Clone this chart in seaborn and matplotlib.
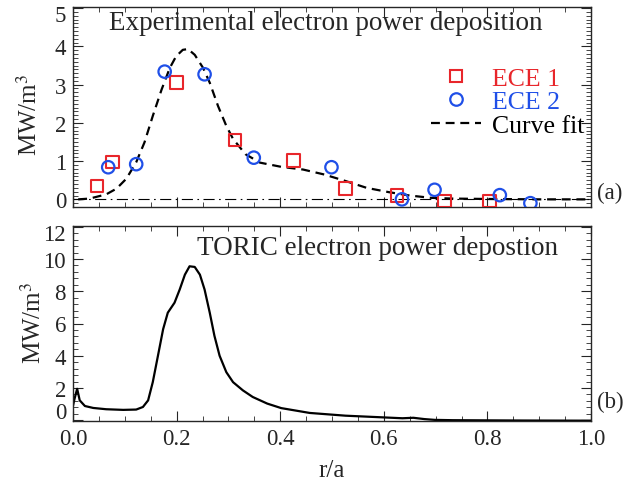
import numpy as np
import pandas as pd
import matplotlib
matplotlib.use("Agg")
import matplotlib.pyplot as plt
from matplotlib.lines import Line2D
from matplotlib.legend_handler import HandlerLine2D
from matplotlib.ticker import MultipleLocator
from matplotlib.transforms import ScaledTranslation
import seaborn as sns

# ---------------- data ----------------
ece1_x = [0.046, 0.076, 0.200, 0.313, 0.426, 0.526, 0.626, 0.717, 0.804]
ece1_y = [0.35, 0.97, 3.06, 1.55, 1.02, 0.28, 0.10, -0.04, -0.04]

ece2_x = [0.068, 0.122, 0.177, 0.254, 0.349, 0.499, 0.635, 0.698, 0.824, 0.883]
ece2_y = [0.84, 0.92, 3.34, 3.27, 1.09, 0.84, 0.00, 0.25, 0.11, -0.10]

fit_x = [0.01, 0.032, 0.064, 0.084, 0.103, 0.122, 0.138, 0.154, 0.171, 0.187,
         0.199, 0.212, 0.222, 0.235, 0.251, 0.264, 0.28, 0.296, 0.309, 0.333,
         0.361, 0.402, 0.444, 0.485, 0.526, 0.567, 0.609, 0.65, 0.691, 0.733,
         0.80, 0.90, 1.0]
fit_y = [0.0, 0.02, 0.13, 0.28, 0.54, 0.97, 1.49, 2.18, 2.87, 3.44,
         3.74, 3.91, 3.93, 3.78, 3.44, 3.05, 2.44, 1.92, 1.58, 1.18,
         0.96, 0.85, 0.78, 0.65, 0.48, 0.30, 0.19, 0.10, 0.04, 0.02,
         0.01, 0.0, 0.0]

toric_x = [0.0, 0.003, 0.008, 0.013, 0.023, 0.039, 0.064, 0.097, 0.122, 0.135,
           0.145, 0.154, 0.164, 0.174, 0.183, 0.196, 0.206, 0.216, 0.225,
           0.235, 0.245, 0.254, 0.264, 0.273, 0.283, 0.296, 0.309, 0.328,
           0.347, 0.375, 0.402, 0.457, 0.526, 0.595, 0.636, 0.657, 0.678,
           0.698, 0.733, 0.80, 0.87, 1.0]
toric_y = [0.9, 1.33, 1.95, 1.23, 0.88, 0.76, 0.68, 0.64, 0.66, 0.82,
           1.23, 2.36, 4.0, 5.65, 6.67, 7.29, 8.11, 9.03, 9.55,
           9.51, 9.03, 8.11, 6.67, 5.24, 4.0, 2.98, 2.36, 1.85,
           1.44, 1.03, 0.75, 0.45, 0.28, 0.18, 0.12, 0.15, 0.07,
           0.02, 0.0, -0.01, -0.02, -0.03]

series_labels = ["ECE 1", "ECE 2", "Curve fit"]
title_a = "Experimental electron power deposition"
title_b = "TORIC electron power depostion"
ylabel = "MW/m$^3$"
xlabel = "r/a"

# ---------------- style ----------------
sns.set_style("ticks")
plt.rcParams["font.family"] = ["Liberation Serif", "DejaVu Serif"]
plt.rcParams["mathtext.fontset"] = "stix"

red = "#e8262b"
blue = "#1f4fe8"
fs_title = 19.5
fs_leg = 18.5
fs_label = 18
fs_tick = 16.5
fs_tag = 16.5

fig = plt.figure(figsize=(6.28, 4.81), dpi=100)
L, W = 73 / 628, 518 / 628
ax1 = fig.add_axes([L, 1 - 208 / 481, W, 200 / 481])
ax2 = fig.add_axes([L, 1 - 422 / 481, W, 195 / 481])

df1 = pd.DataFrame({"x": ece1_x, "y": ece1_y})
df2 = pd.DataFrame({"x": ece2_x, "y": ece2_y})
dff = pd.DataFrame({"x": fit_x, "y": fit_y})
dft = pd.DataFrame({"x": toric_x, "y": toric_y})

dash = (0, (4, 2.6))

# top panel
ax1.axhline(0, color="black", lw=0.8, ls=(0, (10, 4, 1.5, 4)), zorder=1)
sns.lineplot(data=dff, x="x", y="y", ax=ax1, color="black", lw=1.6,
             linestyle=dash, sort=False, zorder=2)
sns.scatterplot(data=df1, x="x", y="y", ax=ax1, marker="s", s=80,
                facecolors="none", edgecolor=red, linewidth=1.5, zorder=3)
sns.scatterplot(data=df2, x="x", y="y", ax=ax1, marker="o", s=80,
                facecolors="none", edgecolor=blue, linewidth=1.6, zorder=3)

ax1.set_xlim(0, 1)
ax1.set_ylim(-0.2, 5.03)
ax1.set_xlabel("")
ax1.set_ylabel(ylabel, fontsize=fs_label)
ax1.set_yticks([0, 1, 2, 3, 4, 5])
ax1.yaxis.set_minor_locator(MultipleLocator(0.1))
ax1.xaxis.set_major_locator(MultipleLocator(0.2))
ax1.xaxis.set_minor_locator(MultipleLocator(0.05))
ax1.text(0.487, 0.92, title_a, transform=ax1.transAxes, ha="center", va="center",
         fontsize=fs_title)
ax1.text(1.011, 0.075, "(a)", transform=ax1.transAxes, ha="left", va="center",
         fontsize=fs_tag)


class RightMarkerHandler(HandlerLine2D):
    def get_xdata(self, legend, xdescent, ydescent, width, height, fontsize):
        xdata = np.array([-xdescent, -xdescent + width], float)
        xdata_marker = np.array([-xdescent + width - 0.25 * fontsize], float)
        return xdata, xdata_marker


handles = [
    Line2D([], [], marker="s", ls="none", mfc="none", mec=red, ms=9, mew=1.5),
    Line2D([], [], marker="o", ls="none", mfc="none", mec=blue, ms=9, mew=1.6),
    Line2D([], [], color="black", lw=1.6, ls=dash),
]
leg = ax1.legend(handles, series_labels, loc="upper left", bbox_to_anchor=(0.691, 0.70),
                 frameon=False, fontsize=fs_leg, handlelength=1.95, handletextpad=0.42,
                 labelspacing=0.02, borderpad=0, borderaxespad=0,
                 handler_map={h: RightMarkerHandler(numpoints=1) for h in handles})
for t, c in zip(leg.get_texts(), [red, blue, "black"]):
    t.set_color(c)

# bottom panel
sns.lineplot(data=dft, x="x", y="y", ax=ax2, color="black", lw=1.6, sort=False)
ax2.set_xlim(0, 1)
ax2.set_ylim(-0.05, 12.05)
ax2.set_yticks([0, 2, 4, 6, 8, 10, 12])
ax2.yaxis.set_minor_locator(MultipleLocator(0.4))
ax2.xaxis.set_major_locator(MultipleLocator(0.2))
ax2.xaxis.set_minor_locator(MultipleLocator(0.05))
ax2.xaxis.set_major_formatter(matplotlib.ticker.FormatStrFormatter("%.1f"))
ax2.set_xlabel(xlabel, fontsize=fs_label, labelpad=7)
ax2.set_ylabel(ylabel, fontsize=fs_label)
ax2.text(0.587, 0.89, title_b, transform=ax2.transAxes, ha="center", va="center",
         fontsize=fs_title)
ax2.text(1.011, 0.10, "(b)", transform=ax2.transAxes, ha="left", va="center",
         fontsize=fs_tag)

for ax in (ax1, ax2):
    ax.tick_params(which="both", direction="in", top=True, right=True,
                   labelsize=fs_tick, pad=5)
    ax.tick_params(which="major", length=7, width=0.8)
    ax.tick_params(which="minor", length=3.5, width=0.6)
    for s in ax.spines.values():
        s.set_linewidth(1.0)
ax1.tick_params(labelbottom=False)
ax1.yaxis.set_label_coords(-0.06, 0.465)
ax2.yaxis.set_label_coords(-0.052, 0.51)

# nudge crowded end labels as in the original figure
fig.canvas.draw()
t2 = ax2.yaxis.get_major_ticks()
t2[0].label1.set_transform(t2[0].label1.get_transform()
                           + ScaledTranslation(0, 10 / 100, fig.dpi_scale_trans))
t2[-1].label1.set_transform(t2[-1].label1.get_transform()
                            + ScaledTranslation(0, -5 / 100, fig.dpi_scale_trans))
t1 = ax1.yaxis.get_major_ticks()
t1[-1].label1.set_transform(t1[-1].label1.get_transform()
                            + ScaledTranslation(0, -5 / 100, fig.dpi_scale_trans))

fig.savefig("out.png", dpi=100)
